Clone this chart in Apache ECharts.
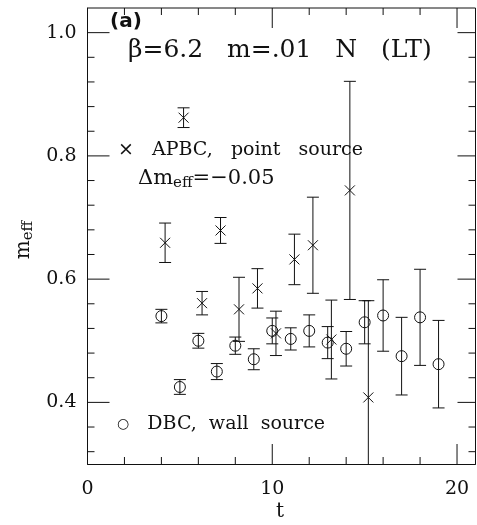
<!DOCTYPE html>
<html lang="en" style="height: 100%">
<head>
  <meta charset="utf-8">
</head>
<body style="height: 100%; margin: 0; background: #fff">
  <div id="container" style="width: 477px; height: 525px"></div>
  <script type="text/javascript" src="https://fastly.jsdelivr.net/npm/echarts@6/dist/echarts.min.js"></script>
  <script type="text/javascript">
    // DBC, wall source (circles)
    const tCircle = [4, 5, 6, 7, 8, 9, 10, 11, 12, 13, 14, 15, 16, 17, 18, 19];
    const mCircle = [0.540, 0.425, 0.500, 0.450, 0.492, 0.470, 0.516, 0.503, 0.516, 0.497, 0.487, 0.530, 0.541, 0.475, 0.538, 0.462];
    const eCircle = [0.011, 0.012, 0.012, 0.013, 0.014, 0.017, 0.021, 0.018, 0.026, 0.026, 0.028, 0.035, 0.058, 0.063, 0.078, 0.071];

    // APBC, point source (crosses), shifted by +0.2 in t
    const tCross = [4.2, 5.2, 6.2, 7.2, 8.2, 9.2, 10.2, 11.2, 12.2, 13.2, 14.2, 15.2];
    const mCross = [0.659, 0.862, 0.561, 0.679, 0.551, 0.585, 0.512, 0.632, 0.655, 0.502, 0.744, 0.408];
    const eCross = [0.032, 0.016, 0.019, 0.021, 0.052, 0.032, 0.036, 0.041, 0.078, 0.064, 0.177, 0.157];

    const xMajorTicks = [0, 10, 20];
    const xMinorTicks = [2, 4, 6, 8, 12, 14, 16, 18];
    const yMajorTicks = [0.4, 0.6, 0.8, 1.0];
    const yMinorTicks = [0.32, 0.36, 0.44, 0.48, 0.52, 0.56, 0.64, 0.68, 0.72, 0.76, 0.84, 0.88, 0.92, 0.96];

    const X_MIN = 0, X_MAX = 21, Y_MIN = 0.3, Y_MAX = 1.04;
    const serif = "'DejaVu Serif', 'Liberation Serif', serif";
    const ink = '#111';

    var myChart = echarts.init(document.getElementById('container'));

    // tick data: [x, y, side, length]; side 0 bottom, 1 top, 2 left, 3 right, 4 top frame, 5 right frame
    const tickData = [];
    xMajorTicks.forEach(function (v) { tickData.push([v, Y_MIN, 0, 20], [v, Y_MAX, 1, 20]); });
    xMinorTicks.forEach(function (v) { tickData.push([v, Y_MIN, 0, 7], [v, Y_MAX, 1, 7]); });
    yMajorTicks.forEach(function (v) { tickData.push([X_MIN, v, 2, 22], [X_MAX, v, 3, 18]); });
    yMinorTicks.forEach(function (v) { tickData.push([X_MIN, v, 2, 7], [X_MAX, v, 3, 7]); });
    tickData.push([X_MIN, Y_MAX, 4, 0], [X_MAX, Y_MIN, 5, 0]);

    function tickItem(params, api) {
      const side = api.value(2), len = api.value(3);
      const p = api.coord([api.value(0), api.value(1)]);
      let shape;
      if (side === 0) shape = { x1: p[0], y1: p[1], x2: p[0], y2: p[1] - len };
      else if (side === 1) shape = { x1: p[0], y1: p[1], x2: p[0], y2: p[1] + len };
      else if (side === 2) shape = { x1: p[0], y1: p[1], x2: p[0] + len, y2: p[1] };
      else if (side === 3) shape = { x1: p[0], y1: p[1], x2: p[0] - len, y2: p[1] };
      else if (side === 4) {
        const q = api.coord([X_MAX, Y_MAX]);
        shape = { x1: p[0], y1: p[1], x2: q[0], y2: q[1] };
      } else {
        const q = api.coord([X_MAX, Y_MAX]);
        shape = { x1: p[0], y1: p[1], x2: q[0], y2: q[1] };
      }
      return { type: 'line', shape: shape, style: { stroke: ink, lineWidth: 1 } };
    }

    function errItem(kind) {
      return function (params, api) {
        const t = api.value(0), m = api.value(1), e = api.value(2);
        const c = api.coord([t, m]);
        const hi = api.coord([t, Math.min(m + e, Y_MAX)]);
        const lo = api.coord([t, Math.max(m - e, Y_MIN)]);
        const cap = 6;
        const st = { stroke: ink, lineWidth: 1, fill: null };
        const kids = [
          { type: 'line', shape: { x1: c[0], y1: hi[1], x2: c[0], y2: lo[1] }, style: st },
          { type: 'line', shape: { x1: c[0] - cap, y1: hi[1], x2: c[0] + cap, y2: hi[1] }, style: st }
        ];
        if (m - e > Y_MIN) {
          kids.push({ type: 'line', shape: { x1: c[0] - cap, y1: lo[1], x2: c[0] + cap, y2: lo[1] }, style: st });
        }
        if (kind === 'circle') {
          kids.push({ type: 'circle', shape: { cx: c[0], cy: c[1], r: 5.5 }, style: { stroke: ink, lineWidth: 1, fill: null } });
        } else {
          const s = 5;
          kids.push({ type: 'line', shape: { x1: c[0] - s, y1: c[1] - s, x2: c[0] + s, y2: c[1] + s }, style: st });
          kids.push({ type: 'line', shape: { x1: c[0] - s, y1: c[1] + s, x2: c[0] + s, y2: c[1] - s }, style: st });
        }
        return { type: 'group', children: kids };
      };
    }

    option = {
      animation: false,
      grid: { left: 87.5, top: 8, right: 1.5, bottom: 61 },
      xAxis: {
        type: 'value', min: X_MIN, max: X_MAX,
        axisLine: { show: true, onZero: false, lineStyle: { color: ink, width: 1 } },
        axisTick: { show: false },
        axisLabel: { show: true, customValues: xMajorTicks, margin: 16, color: ink, fontFamily: serif, fontSize: 19 },
        splitLine: { show: false }
      },
      yAxis: {
        type: 'value', min: Y_MIN, max: Y_MAX,
        axisLine: { show: true, onZero: false, lineStyle: { color: ink, width: 1 } },
        axisTick: { show: false },
        axisLabel: {
          show: true, customValues: yMajorTicks, margin: 11, color: ink, fontFamily: serif, fontSize: 19,
          formatter: function (v) { return v.toFixed(1); }
        },
        splitLine: { show: false }
      },
      series: [
        { type: 'custom', renderItem: tickItem, data: tickData },
        {
          type: 'custom',
          renderItem: errItem('circle'),
          data: tCircle.map(function (t, i) { return [t, mCircle[i], eCircle[i]]; })
        },
        {
          type: 'custom',
          renderItem: errItem('cross'),
          data: tCross.map(function (t, i) { return [t, mCross[i], eCross[i]]; })
        }
      ],
      graphic: {
        elements: [
          { type: 'text', left: 110, top: 12, style: { text: '(a)', font: 'bold 20px "DejaVu Sans", sans-serif', fill: ink } },
          { type: 'text', left: 128, top: 38, style: { text: 'β=6.2   m=.01   N   (LT)', font: '25px ' + serif, fill: ink } },
          { type: 'text', left: 118, top: 141, style: { text: '×   APBC,   point   source', font: '19px ' + serif, fill: ink } },
          {
            type: 'text', left: 138, top: 168,
            style: {
              text: 'Δm{sub|eff}=−0.05', font: '21px ' + serif, fill: ink,
              rich: { sub: { fontSize: 15, fontFamily: serif, padding: [9, 0, 0, 0], fill: ink } }
            }
          },
          {
            type: 'text', left: 117, top: 415,
            style: {
              text: '{s|○}   DBC,  wall  source', font: '19px ' + serif, fill: ink,
              rich: { s: { fontSize: 14, fontFamily: "'DejaVu Sans', sans-serif", fill: ink } }
            }
          },
          {
            type: 'text', x: 24, y: 240, rotation: Math.PI / 2,
            style: {
              text: 'm{sub|eff}', font: '20px ' + serif, fill: ink, align: 'center', verticalAlign: 'middle',
              rich: { sub: { fontSize: 15, fontFamily: serif, padding: [9, 0, 0, 0], fill: ink } }
            }
          },
          { type: 'text', x: 280, y: 512, style: { text: 't', font: '20px ' + serif, fill: ink, align: 'center', verticalAlign: 'middle' } }
        ]
      }
    };

    myChart.setOption(option);
    window.addEventListener('resize', myChart.resize);
  </script>
</body>
</html>
